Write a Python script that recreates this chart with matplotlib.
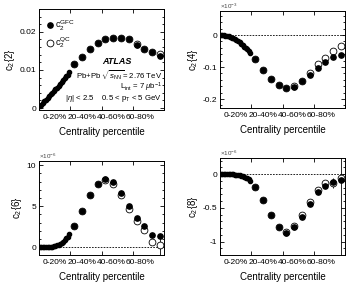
import numpy as np
import matplotlib
matplotlib.use("Agg")
import matplotlib.pyplot as plt
from matplotlib.ticker import AutoMinorLocator

plt.rcParams['font.family'] = ['Liberation Sans', 'DejaVu Sans']
plt.rcParams['mathtext.fontset'] = 'custom'
plt.rcParams['mathtext.rm'] = 'Liberation Sans'
plt.rcParams['mathtext.it'] = 'Liberation Sans:italic'

# =====================
# Data (centrality in %)
# =====================
cent_fine = [0.5, 1.5, 2.5, 3.5, 4.5, 5.5, 6.5, 7.5, 8.5, 9.5,
             10.5, 11.5, 12.5, 13.5, 14.5, 15.5, 16.5, 17.5, 18.5, 19.5]
cent_wide = [22.5, 27.5, 32.5, 37.5, 42.5, 47.5, 52.5, 57.5, 62.5, 67.5, 72.5, 77.5]

# c2{2}
c22_fine = [0.0005, 0.0009, 0.0013, 0.0018, 0.0022, 0.0027, 0.0031, 0.0036, 0.0040, 0.0045,
            0.0050, 0.0054, 0.0059, 0.0064, 0.0068, 0.0073, 0.0078, 0.0083, 0.0088, 0.0094]
c22_gfc = [0.0115, 0.0135, 0.0155, 0.0172, 0.0180, 0.0184, 0.0184, 0.0180, 0.0166, 0.0155, 0.0146, 0.0137]
c22_qc = [0.0115, 0.0135, 0.0155, 0.0172, 0.0180, 0.0184, 0.0184, 0.0180, 0.0167, 0.0156, 0.0148, 0.0141]

# c2{4} (x1e-3)
c24_fine = [0.0, -0.0005, -0.001, -0.002, -0.003, -0.004, -0.006, -0.008, -0.010, -0.013,
            -0.016, -0.019, -0.023, -0.027, -0.031, -0.036, -0.040, -0.045, -0.050, -0.056]
c24_gfc = [-0.076, -0.109, -0.136, -0.157, -0.166, -0.162, -0.143, -0.125, -0.103, -0.085, -0.068, -0.062]
c24_qc = [-0.076, -0.109, -0.136, -0.157, -0.166, -0.160, -0.145, -0.118, -0.092, -0.071, -0.049, -0.033]

# c2{6} (x1e-6)
c26_fine = [0.0, 0.0, 0.0, 0.0, 0.01, 0.02, 0.03, 0.05, 0.08, 0.12,
            0.17, 0.24, 0.32, 0.42, 0.54, 0.69, 0.86, 1.06, 1.30, 1.60]
c26_gfc = [2.6, 4.46, 6.3, 7.75, 8.3, 7.9, 6.64, 5.0, 3.56, 2.62, 1.51, 1.39]
c26_qc = [2.6, 4.46, 6.3, 7.75, 8.2, 7.7, 6.3, 4.6, 3.15, 2.04, 0.69, 0.28]
c26_qc_err = [0, 0, 0, 0, 0, 0, 0, 0, 0, 0, 0, 1.3]

# c2{8} (x1e-6)
c28_fine = [0.0, 0.0, 0.0, 0.0, 0.0, 0.0, -0.001, -0.002, -0.003, -0.005,
            -0.008, -0.012, -0.017, -0.023, -0.031, -0.040, -0.051, -0.064, -0.079, -0.095]
c28_gfc = [-0.19, -0.39, -0.60, -0.79, -0.87, -0.79, -0.63, -0.44, -0.27, -0.18, -0.11, -0.085]
c28_qc = [-0.19, -0.39, -0.60, -0.79, -0.86, -0.77, -0.60, -0.41, -0.23, -0.13, -0.13, -0.06]
c28_qc_err = [0, 0, 0, 0, 0, 0, 0, 0, 0, 0, 0.08, 1.5]

xtick_labels = ['0-20%', '20-40%', '40-60%', '60-80%']
xtick_label_pos = [10.2, 27.5, 46.1, 64.6]

# =====================
# Figure
# =====================
fig = plt.figure(figsize=(3.51, 2.83), dpi=100)
W, H = 351, 283


def make_ax(left, top, right, bottom):
    return fig.add_axes([left / W, 1 - bottom / H, (right - left) / W, (bottom - top) / H])


def style(ax, ylim, yticks, yticklabels, ylabel, mult=None, zero=True):
    ax.set_xlim(0, 80)
    ax.set_ylim(*ylim)
    ax.set_xticks([0, 20, 40, 60, 80])
    ax.set_xticklabels([])
    ax.set_xticks(xtick_label_pos, minor=True)
    ax.set_xticklabels(xtick_labels, minor=True, fontsize=6)
    ax.tick_params(axis='x', which='minor', length=0, pad=3)
    ax.tick_params(axis='x', which='major', direction='in', length=3, width=0.6, top=True)
    ax.set_yticks(yticks)
    ax.set_yticklabels(yticklabels, fontsize=6)
    ax.yaxis.set_minor_locator(AutoMinorLocator(5))
    ax.tick_params(axis='y', which='both', direction='in', right=True, width=0.6, pad=2)
    ax.tick_params(axis='y', which='major', length=3)
    ax.tick_params(axis='y', which='minor', length=1.5)
    for s in ax.spines.values():
        s.set_linewidth(0.7)
    ax.set_xlabel('Centrality percentile', fontsize=7, labelpad=4)
    ax.set_ylabel(ylabel, fontsize=7, labelpad=2)
    if mult:
        ax.text(0.0, 1.005, mult, transform=ax.transAxes, fontsize=4.5, color='#444444',
                ha='left', va='bottom')
    if zero:
        ax.axhline(0, color='black', lw=0.6, ls=(0, (2, 1.5)), zorder=1)


def draw(ax, fine, gfc, qc, qc_err=None):
    ax.plot(cent_fine, fine, 'o', color='black', ms=3.0, mec='black', zorder=3)
    if qc_err is not None:
        ax.errorbar(cent_wide, qc, yerr=qc_err, fmt='none', ecolor='black', elinewidth=0.6, zorder=2)
    ax.plot(cent_wide, qc, 'o', mfc='white', mec='black', mew=0.6, ms=4.9, zorder=3,
            label=r'c$_2^{\rm QC}$')
    ax.plot(cent_wide, gfc, 'o', color='black', ms=3.8, zorder=4, label=r'c$_2^{\rm GFC}$')


# Panel 1: c2{2}
ax1 = make_ax(39, 9, 164, 110)
draw(ax1, c22_fine, c22_gfc, c22_qc)
style(ax1, (-0.0005, 0.026), [0, 0.01, 0.02], ['0', '0.01', '0.02'], 'c$_2${2}', zero=False)
h, l = ax1.get_legend_handles_labels()
ax1.legend(h[::-1], l[::-1], loc='upper left', frameon=False, fontsize=6.5,
           handletextpad=0.1, borderaxespad=0.3, labelspacing=0.3, handlelength=1.0,
           bbox_to_anchor=(0.0, 0.97))
ax1.text(0.62, 0.48, 'ATLAS', transform=ax1.transAxes, fontsize=6.5,
         fontweight='bold', fontstyle='italic', ha='center', va='center')
ax1.text(0.985, 0.35, r'Pb+Pb $\sqrt{s_{\rm NN}}$= 2.76 TeV', transform=ax1.transAxes,
         fontsize=5.6, ha='right', va='center')
ax1.text(0.985, 0.225, r'L$_{\rm int}$ = 7 $\mu$b$^{-1}$', transform=ax1.transAxes,
         fontsize=5.6, ha='right', va='center')
ax1.text(0.985, 0.11, r'|$\eta$| < 2.5    0.5 < p$_{\rm T}$ < 5 GeV', transform=ax1.transAxes,
         fontsize=5.6, ha='right', va='center')

# Panel 2: c2{4}
ax2 = make_ax(220, 11, 345, 108)
draw(ax2, c24_fine, c24_gfc, c24_qc)
style(ax2, (-0.228, 0.075), [-0.2, -0.1, 0], ['-0.2', '-0.1', '0'], 'c$_2${4}',
      mult=r'$\times$10$^{-3}$')

# Panel 3: c2{6}
ax3 = make_ax(39, 161, 164, 255)
draw(ax3, c26_fine, c26_gfc, c26_qc, c26_qc_err)
style(ax3, (-0.95, 10.5), [0, 5, 10], ['0', '5', '10'], 'c$_2${6}',
      mult=r'$\times$10$^{-6}$')

# Panel 4: c2{8}
ax4 = make_ax(220, 158, 345, 255)
draw(ax4, c28_fine, c28_gfc, c28_qc, c28_qc_err)
style(ax4, (-1.2, 0.24), [-1, -0.5, 0], ['-1', '-0.5', '0'], 'c$_2${8}',
      mult=r'$\times$10$^{-6}$')

fig.savefig('out.png', dpi=100)
